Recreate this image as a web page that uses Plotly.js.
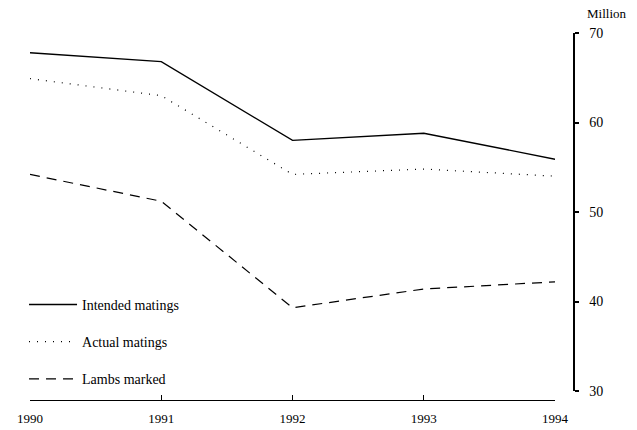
<!DOCTYPE html>
<html>
<head>
<meta charset="utf-8">
<script src="https://cdn.plot.ly/plotly-3.0.1.min.js"></script>
<style>html,body{margin:0;padding:0;background:#fff;}#chart{width:637px;height:430px;}</style>
</head>
<body>
<div id="chart"></div>
<script>
const years = [1990, 1991, 1992, 1993, 1994];
const intendedMatings = [67.8, 66.8, 58.0, 58.8, 55.9];
const actualMatings = [64.9, 63.0, 54.2, 54.8, 54.0];
const lambsMarked = [54.2, 51.2, 39.3, 41.4, 42.2];
const seriesNames = ["Intended matings", "Actual matings", "Lambs marked"];
const yTicks = [30, 40, 50, 60, 70];
const unitLabel = "Million";

const font = "Liberation Serif, Times New Roman, serif";

const traces = [
  {x: years, y: intendedMatings, name: seriesNames[0], legendgroup: "a",
   mode: "lines", line: {color: "#000", width: 1.4, dash: "solid"}},
  {x: years, y: actualMatings, name: seriesNames[1], legendgroup: "b",
   mode: "lines", line: {color: "#000", width: 1.2, dash: "1px,7px"}},
  {x: years, y: lambsMarked, name: seriesNames[2], legendgroup: "c",
   mode: "lines", line: {color: "#000", width: 1.2, dash: "10px,7px"}}
];

const layout = {
  width: 637, height: 430,
  margin: {l: 30, r: 64, t: 33, b: 30, autoexpand: false},
  paper_bgcolor: "#fff", plot_bgcolor: "#fff",
  font: {family: font, size: 13, color: "#000"},
  showlegend: true,
  legend: {x: -0.011, y: 0.014,
           xanchor: "left", yanchor: "bottom",
           bgcolor: "rgba(0,0,0,0)", traceorder: "grouped", tracegroupgap: 16,
           font: {family: font, size: 14, color: "#000"}, itemwidth: 48},
  xaxis: {
    domain: [0, 0.967], range: [1990, 1994], tickvals: years,
    ticktext: years.map(String), showgrid: false, zeroline: false,
    anchor: "free", position: 0,
    showline: true, linecolor: "#000", linewidth: 1.2,
    ticks: "inside", ticklen: 5, tickcolor: "#000", ticklabelstandoff: 6,
    tickfont: {family: font, size: 13, color: "#000"}
  },
  yaxis: {
    domain: [0.0245, 1], range: [30, 70], side: "right", anchor: "free", position: 1,
    tickvals: yTicks, showgrid: false, zeroline: false,
    showline: true, linecolor: "#000", linewidth: 1.5,
    ticks: "outside", ticklen: 4, tickwidth: 2, tickcolor: "#000", ticklabelstandoff: 8,
    tickfont: {family: font, size: 14, color: "#000"}
  },
  annotations: [{
    text: unitLabel, xref: "paper", yref: "paper", x: 1.062, y: 1.0,
    xanchor: "center", yanchor: "middle", yshift: 20, showarrow: false,
    font: {family: font, size: 13, color: "#000"}
  }]
};

Plotly.newPlot("chart", traces, layout, {displayModeBar: false, staticPlot: true});
</script>
</body>
</html>
